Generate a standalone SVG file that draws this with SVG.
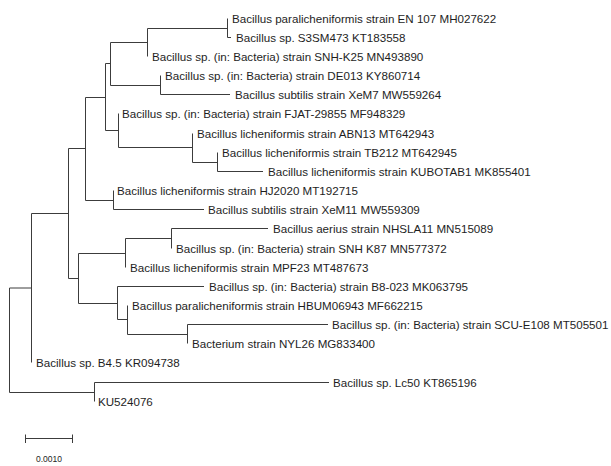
<svg xmlns="http://www.w3.org/2000/svg" width="611" height="466" viewBox="0 0 611 466">
<style>
.b{fill:none;stroke:#3c3c3c;stroke-width:1}
.t{font-family:"Liberation Sans",Arial,sans-serif;font-size:11.6px;fill:#1e1e1e}
.s{font-family:"Liberation Sans",Arial,sans-serif;font-size:8.5px;fill:#1e1e1e}
</style>
<rect width="611" height="466" fill="#ffffff"/>
<g id="connectors">
<path class="b" d="M9.5,288 V392.5 H94.5"/>
<path class="b" d="M9.5,288 H31.5 M31.5,213.5 V362.5"/>
<path class="b" d="M31.5,213.5 H68.5 M68.5,148.5 V278.5"/>
<path class="b" d="M68.5,148.5 H85.5 M85.5,97.5 V200.5"/>
<path class="b" d="M85.5,97.5 H105.5 M105.5,63.5 V130.5"/>
<path class="b" d="M105.5,63.5 H110.5 M110.5,42.5 V85.5"/>
<path class="b" d="M110.5,42.5 H147.5 M147.5,28.5 V56.5"/>
<path class="b" d="M147.5,28.5 H227.5 M227.5,18.5 V37.5 H231"/>
<path class="b" d="M110.5,85.5 H160.5 M160.5,75.5 V94.5 H230"/>
<path class="b" d="M105.5,130.5 H118.5 M118.5,113.5 V147.5"/>
<path class="b" d="M118.5,147.5 H192.5 M192.5,133.5 V162.5"/>
<path class="b" d="M192.5,162.5 H217.5 M217.5,152.5 V171.5 H263"/>
<path class="b" d="M85.5,200.5 H113.5 M113.5,190.5 V209.5 H204"/>
<path class="b" d="M68.5,278.5 H78.5 M78.5,253.5 V303.5"/>
<path class="b" d="M78.5,253.5 H125.5 M125.5,238.5 V267.5"/>
<path class="b" d="M125.5,238.5 H171.5 M171.5,228.5 V248.5 M171.5,228.5 H268"/>
<path class="b" d="M78.5,303.5 H117.5 M117.5,286.5 V319.5 M117.5,286.5 H204"/>
<path class="b" d="M117.5,319.5 H127.5 M127.5,305.5 V334.5"/>
<path class="b" d="M127.5,334.5 H187.5 M187.5,324.5 V343.5 M187.5,324.5 H328"/>
<path class="b" d="M94.5,382.5 V401.5 M94.5,382.5 H329"/>
</g>
<g id="leaf1"><text class="t" x="232" y="22.5">Bacillus paralicheniformis strain EN 107 MH027622</text></g>
<g id="leaf2"><text class="t" x="236" y="41.5">Bacillus sp. S3SM473 KT183558</text></g>
<g id="leaf3"><text class="t" x="152" y="60.5">Bacillus sp. (in: Bacteria) strain SNH-K25 MN493890</text></g>
<g id="leaf4"><text class="t" x="165" y="79.5">Bacillus sp. (in: Bacteria) strain DE013 KY860714</text></g>
<g id="leaf5"><text class="t" x="235" y="98.5">Bacillus subtilis strain XeM7 MW559264</text></g>
<g id="leaf6"><text class="t" x="122" y="117.5">Bacillus sp. (in: Bacteria) strain FJAT-29855 MF948329</text></g>
<g id="leaf7"><text class="t" x="197" y="137.5">Bacillus licheniformis strain ABN13 MT642943</text></g>
<g id="leaf8"><text class="t" x="222" y="156.5">Bacillus licheniformis strain TB212 MT642945</text></g>
<g id="leaf9"><text class="t" x="268" y="175.5">Bacillus licheniformis strain KUBOTAB1 MK855401</text></g>
<g id="leaf10"><text class="t" x="117" y="194.5">Bacillus licheniformis strain HJ2020 MT192715</text></g>
<g id="leaf11"><text class="t" x="208" y="213.5">Bacillus subtilis strain XeM11 MW559309</text></g>
<g id="leaf12"><text class="t" x="273" y="232.5">Bacillus aerius strain NHSLA11 MN515089</text></g>
<g id="leaf13"><text class="t" x="176" y="252.5">Bacillus sp. (in: Bacteria) strain SNH K87 MN577372</text></g>
<g id="leaf14"><text class="t" x="130" y="271.5">Bacillus licheniformis strain MPF23 MT487673</text></g>
<g id="leaf15"><text class="t" x="209" y="290.5">Bacillus sp. (in: Bacteria) strain B8-023 MK063795</text></g>
<g id="leaf16"><text class="t" x="132" y="309.5">Bacillus paralicheniformis strain HBUM06943 MF662215</text></g>
<g id="leaf17"><text class="t" x="332" y="328.5">Bacillus sp. (in: Bacteria) strain SCU-E108 MT505501</text></g>
<g id="leaf18"><text class="t" x="192" y="347.5">Bacterium strain NYL26 MG833400</text></g>
<g id="leaf19"><text class="t" x="36" y="366.5">Bacillus sp. B4.5 KR094738</text></g>
<g id="leaf20"><text class="t" x="333" y="386.5">Bacillus sp. Lc50 KT865196</text></g>
<g id="leaf21"><text class="t" x="98" y="405.5">KU524076</text></g>
<g id="scalebar">
<path class="b" d="M25.5,438.5 H72.5 M25.5,434.5 V443 M72.5,434.5 V443"/>
<text class="s" x="36" y="462">0.0010</text>
</g>
</svg>
